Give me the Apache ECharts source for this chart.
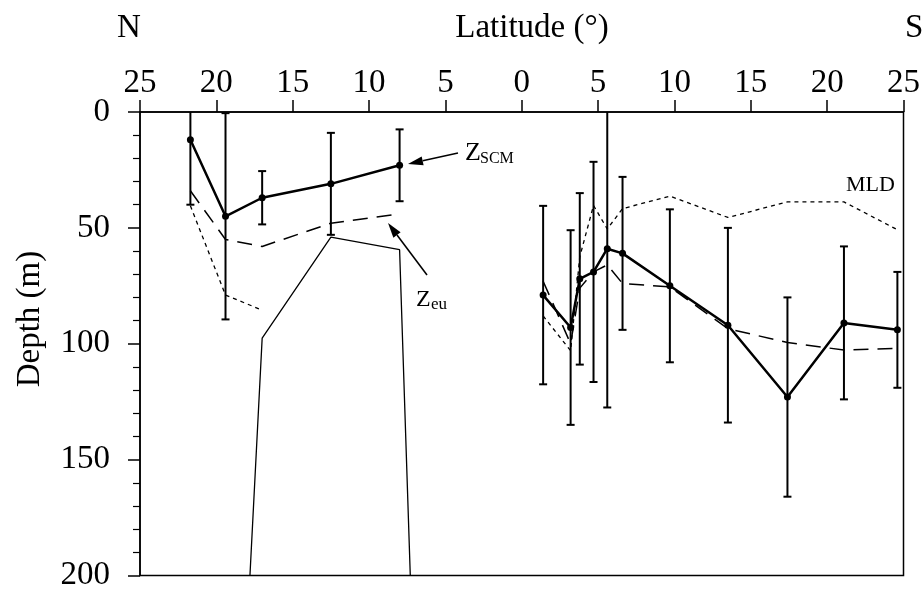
<!DOCTYPE html>
<html>
<head>
<meta charset="utf-8">
<script src="https://cdn.jsdelivr.net/npm/echarts@6/dist/echarts.min.js"></script>
<style>
html, body { margin: 0; background: #fff; }
#chart { width: 923px; height: 592px; }
</style>
</head>
<body>
<div id="chart"></div>
<script>
// latitude of the stations: negative = N, positive = S
var stationLat = [-21.7, -19.4, -17.0, -12.5, -8.0, 1.4, 3.2, 3.8, 4.7, 5.6, 6.6, 9.7, 13.5, 17.4, 21.1, 24.6];
// depth of the subsurface chlorophyll maximum (m) and its SD
var zScm = [12, 45, 37, 31, 23, 79, 93, 72, 69, 59, 61, 75, 92, 123, 91, 94];
var zScmSd = [28, 44.5, 11.5, 22, 15.5, 38.5, 42, 37, 47.5, 68.5, 33, 33, 42, 43, 33, 25];
// euphotic depth (m)
var zEu = [34, 55, 58, 48, 44, 73, 100, 76, 69, 66, 74, 75.5, 93.5, 99.5, 102.7, 102];
// mixed layer depth (m)
var mld = [40.5, 79, 85.5, null, null, 88, 103, 62.5, 40.3, 50.5, 41.7, 36.3, 45.5, 38.8, 38.8, 50.8];
// thin solid line (north section)
var thinLat = [-17.8, -17.0, -12.5, -8.0, -7.3];
var thinDepth = [200, 97.6, 54, 59.4, 200];

var latTicks = [-25, -20, -15, -10, -5, 0, 5, 10, 15, 20, 25];
var depthTicks = [0, 50, 100, 150, 200];

var FONT = 'Liberation Serif';

// pairs [lat, value]; the line is broken between the N and S sections
function pairs(lat, val) {
	var out = [];
	for (var i = 0; i < lat.length; i++) {
		if (i > 0 && (lat[i] > 0) !== (lat[i - 1] > 0)) {
			out.push([lat[i], '-']);
		}
		out.push([lat[i], val[i] == null ? '-' : val[i]]);
	}
	return out;
}

var errData = [];
for (var i = 0; i < stationLat.length; i++) {
	errData.push([stationLat[i], zScm[i] - zScmSd[i], zScm[i] + zScmSd[i]]);
}

function renderErr(params, api) {
	var lat = api.value(0), lo = api.value(1), hi = api.value(2);
	var top = Math.max(lo, depthTicks[0]);
	var bot = Math.min(hi, depthTicks[depthTicks.length - 1]);
	var p1 = api.coord([lat, top]);
	var p2 = api.coord([lat, bot]);
	var st = { stroke: '#000', lineWidth: 2 };
	var kids = [{ type: 'line', shape: { x1: p1[0], y1: p1[1], x2: p2[0], y2: p2[1] }, style: st }];
	if (lo >= top) {
		kids.push({ type: 'line', shape: { x1: p1[0] - 4, y1: p1[1], x2: p1[0] + 4, y2: p1[1] }, style: st });
	}
	if (hi <= bot) {
		kids.push({ type: 'line', shape: { x1: p2[0] - 4, y1: p2[1], x2: p2[0] + 4, y2: p2[1] }, style: st });
	}
	return { type: 'group', children: kids };
}

function arrow(x1, y1, x2, y2) {
	var dx = x2 - x1, dy = y2 - y1;
	var len = Math.sqrt(dx * dx + dy * dy);
	var ux = dx / len, uy = dy / len;
	var bx = x2 - ux * 15, by = y2 - uy * 15;
	return {
		type: 'group',
		children: [
			{ type: 'line', shape: { x1: x1, y1: y1, x2: bx, y2: by }, style: { stroke: '#000', lineWidth: 1.5 } },
			{ type: 'polygon', shape: { points: [[x2, y2], [bx - uy * 4.5, by + ux * 4.5], [bx + uy * 4.5, by - ux * 4.5]] }, style: { fill: '#000' } }
		]
	};
}

function txt(x, y, s, size) {
	return { type: 'text', x: x, y: y, style: { text: s, font: size + 'px "' + FONT + '"', fill: '#000', verticalAlign: 'middle' } };
}

var chart = echarts.init(document.getElementById('chart'));

var option = {
	backgroundColor: '#fff',
	animation: false,
	grid: { left: 140, right: 18, top: 112, bottom: 13, show: true, borderColor: '#000', borderWidth: 1.5 },
	xAxis: {
		type: 'value',
		position: 'top',
		min: latTicks[0],
		max: latTicks[latTicks.length - 1],
		interval: 5,
		splitLine: { show: false },
		axisLine: { onZero: false, lineStyle: { color: '#000', width: 1.5 } },
		axisTick: { length: 12, lineStyle: { color: '#000', width: 1.5 } },
		axisLabel: {
			margin: 12,
			color: '#000',
			fontFamily: FONT,
			fontSize: 33,
			formatter: function (v) { return Math.abs(v); }
		}
	},
	yAxis: {
		type: 'value',
		inverse: true,
		min: depthTicks[0],
		max: depthTicks[depthTicks.length - 1],
		interval: 50,
		splitLine: { show: false },
		axisLine: { onZero: false, lineStyle: { color: '#000', width: 1.5 } },
		axisTick: { length: 12, lineStyle: { color: '#000', width: 1.5 } },
		minorTick: { show: true, splitNumber: 5, length: 7, lineStyle: { color: '#000', width: 1.2 } },
		axisLabel: { margin: 30, color: '#000', fontFamily: FONT, fontSize: 33 }
	},
	graphic: [
		txt(117, 28, 'N', 33),
		txt(905, 28, 'S', 33),
		{ type: 'text', x: 532, y: 28, style: { text: 'Latitude (°)', font: '33px "' + FONT + '"', fill: '#000', align: 'center', verticalAlign: 'middle' } },
		{ type: 'text', x: 30, y: 319, rotation: Math.PI / 2, style: { text: 'Depth (m)', font: '33px "' + FONT + '"', fill: '#000', align: 'center', verticalAlign: 'middle' } },
		txt(465, 153, 'Z', 26),
		txt(480, 159, 'SCM', 16),
		txt(416, 300, 'Z', 24),
		txt(431, 305, 'eu', 17),
		txt(846, 185, 'MLD', 22),
		arrow(458, 153, 408, 164),
		arrow(427, 275, 388, 223)
	],
	series: [
		{
			name: 'thin', type: 'line', symbol: 'none',
			data: thinLat.map(function (v, i) { return [v, thinDepth[i]]; }),
			lineStyle: { color: '#000', width: 1.3 }
		},
		{
			name: 'MLD', type: 'line', symbol: 'none', data: pairs(stationLat, mld),
			lineStyle: { color: '#000', width: 1.3, type: [4, 4] }
		},
		{
			name: 'Zeu', type: 'line', symbol: 'none', data: pairs(stationLat, zEu),
			lineStyle: { color: '#000', width: 1.5, type: [15, 9] }
		},
		{
			name: 'sd', type: 'custom', renderItem: renderErr, data: errData,
			encode: { x: 0, y: [1, 2] }, z: 3
		},
		{
			name: 'Zscm', type: 'line', symbol: 'circle', symbolSize: 7, data: pairs(stationLat, zScm),
			itemStyle: { color: '#000' },
			lineStyle: { color: '#000', width: 2.5 }, z: 4
		}
	]
};

chart.setOption(option);
</script>
</body>
</html>
